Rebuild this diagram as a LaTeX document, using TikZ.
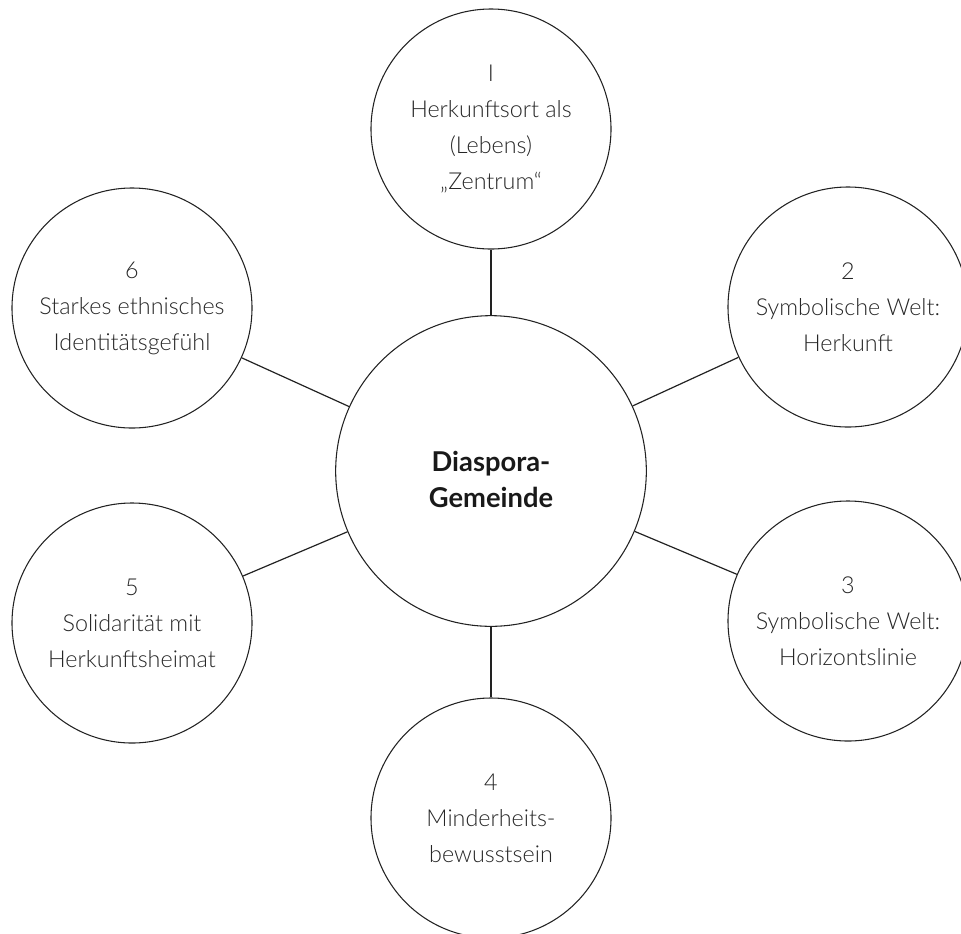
\documentclass[tikz,border=0pt]{standalone}
\usepackage{fontspec}
\IfFontExistsTF{Lato Light}{\setmainfont{Lato Light}[BoldFont={Lato Bold}]}{\setmainfont{Lato}}
\definecolor{txtgray}{HTML}{262626}
\definecolor{linecol}{HTML}{222222}
\tikzset{
  bubble/.style={circle, draw=linecol, line width=0.8pt, minimum size=180pt, inner sep=0pt,
    align=center, text=txtgray, font=\fontsize{17.5}{27}\selectfont},
  hub/.style={circle, draw=linecol, line width=0.8pt, minimum size=233pt, inner sep=0pt},
  hubtext/.style={align=center, text=black!90, inner sep=0pt, font=\fontsize{20.5}{27}\selectfont\bfseries},
  conn/.style={draw=linecol, line width=0.9pt}
}
\begin{document}
\begin{tikzpicture}[x=0.75pt,y=-0.75pt]
\useasboundingbox (0,0) rectangle (961,933);
\clip (0,0) rectangle (961,933);
\node[hub, label={[hubtext, yshift=-6pt]center:{Diaspora-\\Gemeinde}}] (c) at (491,471) {};
\node[bubble] (n1) at (491,129) {I\\Herkunftsort als\\(Lebens)\\„Zentrum“};
\node[bubble] (n2) at (848,307) {2\\Symbolische Welt:\\Herkunft};
\node[bubble] (n3) at (848,621) {3\\Symbolische Welt:\\Horizontslinie};
\node[bubble] (n4) at (491,818) {4\\Minderheits-\\bewusstsein};
\node[bubble] (n5) at (132,623) {5\\Solidarität mit\\Herkunftsheimat};
\node[bubble] (n6) at (132,308) {6\\Starkes ethnisches\\Identitätsgefühl};
\foreach \n in {n1,n2,n3,n4,n5,n6} \draw[conn] (c) -- (\n);
\end{tikzpicture}
\end{document}
